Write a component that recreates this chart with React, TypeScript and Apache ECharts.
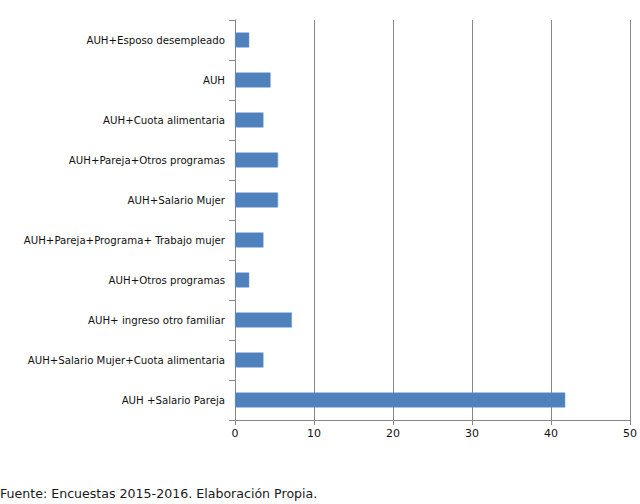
import React, { useEffect, useRef } from "react";
import * as echarts from "echarts";

const categories = [
  "AUH+Esposo desempleado",
  "AUH",
  "AUH+Cuota alimentaria",
  "AUH+Pareja+Otros programas",
  "AUH+Salario Mujer",
  "AUH+Pareja+Programa+ Trabajo mujer",
  "AUH+Otros programas",
  "AUH+ ingreso otro familiar",
  "AUH+Salario Mujer+Cuota alimentaria",
  "AUH +Salario Pareja",
];
const values = [1.8, 4.5, 3.6, 5.45, 5.45, 3.6, 1.8, 7.2, 3.6, 41.8];
const xTicks = [0, 10, 20, 30, 40, 50];
const footnote = "Fuente: Encuestas 2015-2016. Elaboración Propia.";

export default function App() {
  const ref = useRef<HTMLDivElement>(null);
  useEffect(() => {
    document.body.style.margin = "0";
    const chart = echarts.init(ref.current!, null, { renderer: "svg" });
    const font = "DejaVu Sans";
    chart.setOption({
      animation: false,
      backgroundColor: "#ffffff",
      grid: { left: 235, right: 8, top: 20, bottom: 84, containLabel: false },
      xAxis: {
        type: "value",
        min: xTicks[0],
        max: xTicks[xTicks.length - 1],
        interval: 10,
        axisLine: { show: true, lineStyle: { color: "#868686", width: 1 } },
        axisTick: { show: true, length: 5, lineStyle: { color: "#868686" } },
        splitLine: { show: true, lineStyle: { color: "#868686", width: 1 } },
        axisLabel: { color: "#111", fontFamily: font, fontSize: 11, margin: 8 },
      },
      yAxis: {
        type: "category",
        data: categories,
        inverse: true,
        axisLine: { show: true, lineStyle: { color: "#868686", width: 1 } },
        axisTick: { show: true, length: 6, lineStyle: { color: "#868686" } },
        axisLabel: { color: "#111", fontFamily: font, fontSize: 10.2, margin: 10 },
      },
      series: [
        {
          type: "bar",
          data: values,
          barWidth: 15,
          itemStyle: { color: "#4f81bd", borderColor: "#6a93c8", borderWidth: 0.5 },
        },
      ],
      graphic: [
        {
          type: "text",
          left: 0,
          top: 487,
          style: { text: footnote, fill: "#1a1a1a", font: `12.6px "${font}"` },
        },
      ],
    });
    return () => chart.dispose();
  }, []);
  return (
    <div
      ref={ref}
      style={{ position: "absolute", left: 0, top: 0, width: 640, height: 504 }}
    />
  );
}
